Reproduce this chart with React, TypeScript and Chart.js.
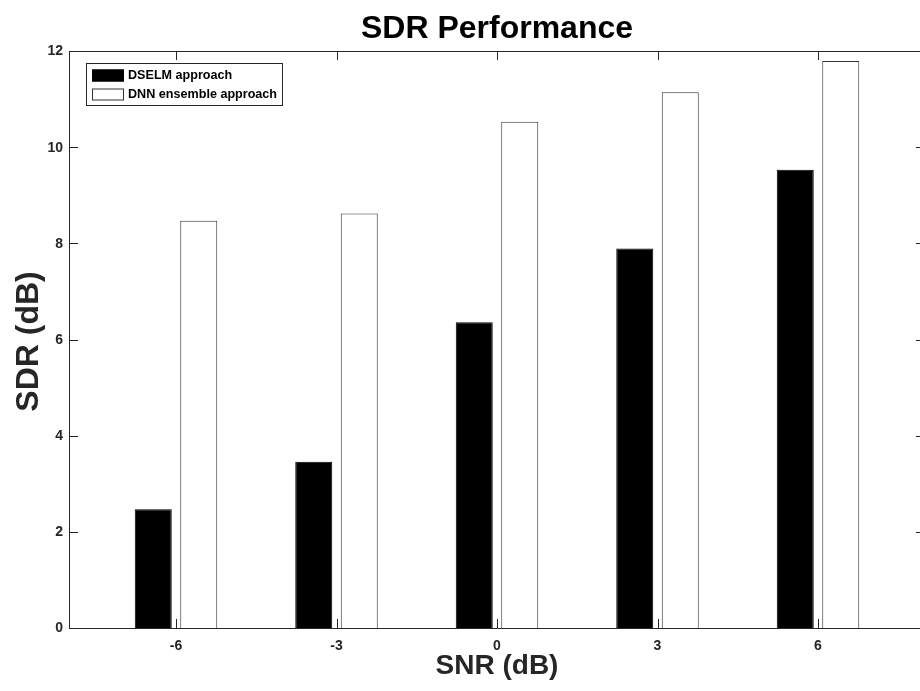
import React, { useEffect, useRef } from 'react';
import { Chart, registerables } from 'chart.js';

Chart.register(...registerables);

const snrLevels = [-6, -3, 0, 3, 6];
const dselmValues = [2.47, 3.46, 6.36, 7.89, 9.53];
const dnnValues = [8.47, 8.62, 10.53, 11.14, 11.79];
const yTickValues = [0, 2, 4, 6, 8, 10, 12];
const seriesLabels = ['DSELM approach', 'DNN ensemble approach'];
const chartTitle = 'SDR Performance';
const xAxisTitle = 'SNR (dB)';
const yAxisTitle = 'SDR (dB)';

const FONT = '"Liberation Sans", Arial, Helvetica, sans-serif';
const AXIS_COLOR = '#262626';

export default function App() {
  const canvasRef = useRef<HTMLCanvasElement>(null);

  useEffect(() => {
    const canvas = canvasRef.current;
    if (!canvas) return;

    const framePlugin = {
      id: 'matlabFrame',
      afterDatasetsDraw(chart: any) {
        const { ctx, chartArea: a, scales } = chart;
        const xs = scales.x;
        const ys = scales.y;
        ctx.save();
        ctx.strokeStyle = AXIS_COLOR;
        ctx.lineWidth = 1;
        ctx.beginPath();
        ctx.rect(a.left + 0.5, a.top + 0.5, a.right - a.left, a.bottom - a.top);
        const tickLen = 9;
        yTickValues.forEach((v) => {
          const py = Math.round(ys.getPixelForValue(v)) + 0.5;
          ctx.moveTo(a.left, py);
          ctx.lineTo(a.left + tickLen, py);
          ctx.moveTo(a.right, py);
          ctx.lineTo(a.right - tickLen, py);
        });
        snrLevels.forEach((v) => {
          const px = Math.round(xs.getPixelForValue(v)) + 0.5;
          ctx.moveTo(px, a.bottom);
          ctx.lineTo(px, a.bottom - tickLen);
          ctx.moveTo(px, a.top);
          ctx.lineTo(px, a.top + tickLen);
        });
        ctx.stroke();

        // tick labels
        ctx.fillStyle = AXIS_COLOR;
        ctx.font = `bold 14px ${FONT}`;
        ctx.textAlign = 'right';
        ctx.textBaseline = 'middle';
        yTickValues.forEach((v) => {
          ctx.fillText(String(v), a.left - 6, ys.getPixelForValue(v) + 0.5);
        });
        ctx.textAlign = 'center';
        ctx.textBaseline = 'top';
        snrLevels.forEach((v) => {
          ctx.fillText(String(v), xs.getPixelForValue(v), a.bottom + 11);
        });

        // titles
        const cx = (a.left + a.right) / 2;
        ctx.fillStyle = '#000';
        ctx.textBaseline = 'alphabetic';
        ctx.font = `bold 32px ${FONT}`;
        ctx.fillText(chartTitle, cx, 38);
        ctx.fillStyle = AXIS_COLOR;
        ctx.font = `bold 28px ${FONT}`;
        ctx.fillText(xAxisTitle, cx, 674);
        ctx.save();
        ctx.translate(38, (a.top + a.bottom) / 2 + 2);
        ctx.rotate(-Math.PI / 2);
        ctx.font = `bold 32px ${FONT}`;
        ctx.fillText(yAxisTitle, 0, 0);
        ctx.restore();

        // legend
        const lx = 86;
        const ly = 63;
        const lw = 196;
        const lh = 42;
        ctx.fillStyle = '#fff';
        ctx.fillRect(lx, ly, lw, lh);
        ctx.strokeStyle = AXIS_COLOR;
        ctx.strokeRect(lx + 0.5, ly + 0.5, lw, lh);
        ctx.font = `bold 12.6px ${FONT}`;
        ctx.textAlign = 'left';
        ctx.textBaseline = 'middle';
        chart.data.datasets.forEach((ds: any, i: number) => {
          const cy = ly + 12.5 + i * 19;
          ctx.fillStyle = ds.backgroundColor;
          ctx.fillRect(92, cy - 6, 32, 12);
          ctx.strokeStyle = ds.borderColor;
          ctx.strokeRect(92.5, cy - 5.5, 31, 11);
          ctx.fillStyle = '#000';
          ctx.fillText(ds.label, 128, cy + 0.5);
        });
        ctx.restore();
      },
    };

    const chart = new Chart(canvas, {
      type: 'bar',
      data: {
        datasets: [
          {
            label: seriesLabels[0],
            data: snrLevels.map((x, i) => ({ x, y: dselmValues[i] })),
            backgroundColor: '#000000',
            borderColor: '#000000',
            borderWidth: 1,
          },
          {
            label: seriesLabels[1],
            data: snrLevels.map((x, i) => ({ x, y: dnnValues[i] })),
            backgroundColor: '#ffffff',
            borderColor: '#333333',
            borderWidth: 1,
          },
        ],
      },
      options: {
        responsive: false,
        animation: false,
        devicePixelRatio: 1,
        categoryPercentage: 0.567,
        barPercentage: 0.813,
        layout: { padding: { left: 69, top: 51, right: 5, bottom: 63 } },
        plugins: {
          legend: { display: false },
          title: { display: false },
          tooltip: { enabled: false },
        },
        scales: {
          x: {
            type: 'linear',
            display: false,
            offset: false,
            min: -8,
            max: 8,
            afterBuildTicks: (scale: any) => {
              scale.ticks = snrLevels.map((v) => ({ value: v }));
            },
          },
          y: {
            type: 'linear',
            display: false,
            min: 0,
            max: 12,
            afterBuildTicks: (scale: any) => {
              scale.ticks = yTickValues.map((v) => ({ value: v }));
            },
          },
        },
      } as any,
      plugins: [framePlugin],
    });

    return () => chart.destroy();
  }, []);

  return (
    <div
      style={{
        position: 'fixed',
        left: 0,
        top: 0,
        width: 920,
        height: 691,
        overflow: 'hidden',
        background: '#fff',
      }}
    >
      <canvas ref={canvasRef} width={930} height={691} style={{ display: 'block', width: 930, height: 691 }} />
    </div>
  );
}
